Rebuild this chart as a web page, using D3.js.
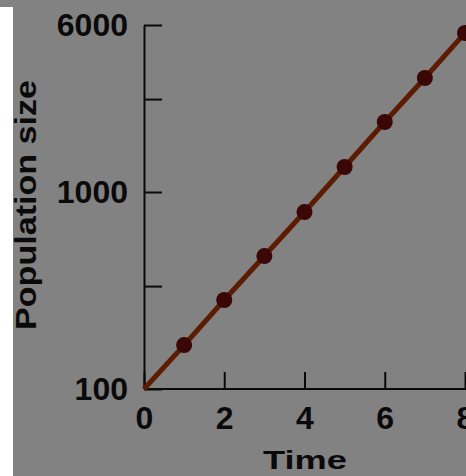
<!DOCTYPE html>
<html>
<head>
<meta charset="utf-8">
<script src="https://cdn.jsdelivr.net/npm/d3@7"></script>
<style>
  body { margin: 0; background: #828282; }
  svg { display: block; }
  .axis text { font-family: "Liberation Sans", Arial, sans-serif; font-weight: bold; font-size: 32px; fill: #0a0a0a; }
  .axis path, .axis line { stroke: #0a0a0a; stroke-width: 2; }
</style>
</head>
<body>
<div id="chart"></div>
<script>
      var times = [1, 2, 3, 4, 5, 6, 7, 8];
      var population = [167, 283, 473, 791, 1308, 2119, 3398, 5508];
      var lineTimes = [0, 1, 2, 3, 4, 5, 6, 7, 8];
      var linePop = [100, 167, 283, 473, 791, 1308, 2119, 3398, 5508];
      var yTicks = [100, 333, 1000, 2710, 6000];
      var yTickLabels = ["100", "", "1000", "", "6000"];
      var xTicks = [0, 2, 4, 6, 8];

      var width = 466, height = 476;

      var svg = d3.select("#chart").append("svg")
          .attr("width", width)
          .attr("height", height);

      svg.append("rect").attr("width", width).attr("height", height).attr("fill", "#828282");
      // white strip on the left edge
      svg.append("rect").attr("x", 0).attr("y", 7).attr("width", 13).attr("height", height - 7).attr("fill", "#ffffff");

      ////// Scales /////////////////
      var xScale = d3.scaleLinear()
          .domain([0, 8])
          .range([144, 465]);
      // the drawn axis is not a perfect log axis, so it is piecewise
      var yScale = d3.scaleLog()
          .domain([100, 1000, 6000])
          .range([389, 192, 25]);

      ////// Axes /////////////////
      var yAxis = d3.axisLeft(yScale)
          .tickValues(yTicks)
          .tickFormat(function(d, i) { return yTickLabels[i]; })
          .tickSize(-18)
          .tickSizeOuter(0)
          .tickPadding(16);

      var xAxis = d3.axisBottom(xScale)
          .tickValues(xTicks)
          .tickFormat(d3.format("d"))
          .tickSize(-17)
          .tickSizeOuter(0)
          .tickPadding(17);

      svg.append("g")
          .attr("class", "x axis")
          .attr("transform", "translate(0,389)")
          .call(xAxis);

      svg.select(".x.axis .domain").attr("d", "M144,0H466");

      svg.append("g")
          .attr("class", "y axis")
          .attr("transform", "translate(144,0)")
          .call(yAxis);

      // line
      var line = d3.line()
          .x(function(d, i) { return xScale(lineTimes[i]); })
          .y(function(d) { return yScale(d); });

      svg.append("path")
          .datum(linePop)
          .attr("d", line)
          .attr("fill", "none")
          .attr("stroke", "#5c1c02")
          .attr("stroke-width", 5);

      // points
      svg.append("g")
          .selectAll("circle")
          .data(population)
          .enter()
          .append("circle")
          .attr("cx", function(d, i) { return xScale(times[i]); })
          .attr("cy", function(d) { return yScale(d); })
          .attr("r", 8)
          .attr("fill", "#3a0606");

      // axis titles
      svg.append("text")
          .attr("x", 305)
          .attr("y", 469)
          .attr("text-anchor", "middle")
          .attr("textLength", 84)
          .attr("lengthAdjust", "spacingAndGlyphs")
          .style("font-family", "'Liberation Sans', Arial, sans-serif")
          .style("font-weight", "bold")
          .style("font-size", "25px")
          .attr("fill", "#0a0a0a")
          .text("Time");

      svg.append("text")
          .attr("transform", "translate(36,205) rotate(-90)")
          .attr("text-anchor", "middle")
          .attr("textLength", 250)
          .attr("lengthAdjust", "spacingAndGlyphs")
          .style("font-family", "'Liberation Sans', Arial, sans-serif")
          .style("font-weight", "bold")
          .style("font-size", "30px")
          .attr("fill", "#0a0a0a")
          .text("Population size");
</script>
</body>
</html>
